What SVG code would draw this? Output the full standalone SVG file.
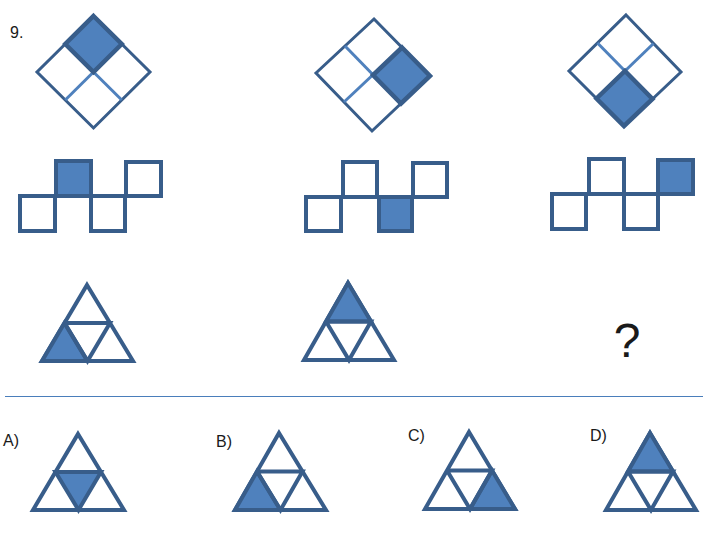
<svg xmlns="http://www.w3.org/2000/svg" width="726" height="534" viewBox="0 0 726 534">
<style>
.txt{font-family:"Liberation Sans","Open Sans",sans-serif;fill:#1a1a1a}
.out{fill:#fff;stroke:#385d8a;stroke-width:3;stroke-linejoin:miter}
.inl{stroke:#4f81bd;stroke-width:3;fill:none}
.shd{fill:#4f81bd;stroke:#385d8a;stroke-width:4.5;stroke-linejoin:miter}
.sq{fill:#fff;stroke:#385d8a;stroke-width:4}
.sqs{fill:#4f81bd;stroke:#385d8a;stroke-width:4}
.tri{fill:#fff;stroke:#385d8a;stroke-width:4;stroke-linejoin:miter}
.tris{fill:#4f81bd;stroke:#385d8a;stroke-width:4;stroke-linejoin:miter}
.tl{stroke:#385d8a;stroke-width:4;fill:none}
</style>
<rect width="726" height="534" fill="#fff"/>
<text class="txt" x="10" y="38" font-size="16">9.</text>

<g id="diamond1">
<polygon class="out" points="93.5,16 150,72 93.5,128 37,72"/>
<line class="inl" x1="65.25" y1="44" x2="121.75" y2="100"/>
<line class="inl" x1="121.75" y1="44" x2="65.25" y2="100"/>
<polygon class="shd" points="93.5,16 121.75,44 93.5,72 65.25,44"/>
</g>
<g id="diamond2">
<polygon class="out" points="374,19 430,76 372,131 316,73"/>
<line class="inl" x1="345" y1="46" x2="401" y2="103.5"/>
<line class="inl" x1="402" y1="47.5" x2="344" y2="102"/>
<polygon class="shd" points="402,47.5 430,76 401,103.5 373,75"/>
</g>
<g id="diamond3">
<polygon class="out" points="626,15 681,72 624,126 569,71"/>
<line class="inl" x1="597.5" y1="43" x2="652.5" y2="99"/>
<line class="inl" x1="653.5" y1="43.5" x2="596.5" y2="98.5"/>
<polygon class="shd" points="625,71 652.5,99 624,126 596.5,98.5"/>
</g>

<g id="squares1">
<rect class="sq" x="20" y="196" width="35" height="35"/>
<rect class="sq" x="91" y="196" width="34" height="35"/>
<rect class="sq" x="126" y="162" width="35" height="34"/>
<rect class="sqs" x="56" y="161" width="35" height="35"/>
</g>
<g id="squares2">
<rect class="sq" x="306" y="197" width="35" height="34"/>
<rect class="sq" x="343" y="162" width="34" height="35"/>
<rect class="sq" x="413" y="163" width="34" height="34"/>
<rect class="sqs" x="379" y="197" width="33" height="34"/>
</g>
<g id="squares3">
<rect class="sq" x="552" y="194" width="34" height="35"/>
<rect class="sq" x="589" y="159" width="35" height="35"/>
<rect class="sq" x="624" y="194" width="34" height="35"/>
<rect class="sqs" x="658" y="160" width="35" height="34"/>
</g>

<g id="triangle1">
<polygon class="tri" points="87,285 133,361 42,361"/>
<polygon class="tris" points="64.5,323 87.5,361 42,361"/>
<polyline class="tl" points="64.5,323 110,323 87.5,361 64.5,323"/>
</g>
<g id="triangle2">
<polygon class="tri" points="348,283 394,360 304,360"/>
<polygon class="tris" points="348,283 371,321.5 326,321.5"/>
<polyline class="tl" points="326,321.5 371,321.5 349,360 326,321.5"/>
</g>
<text class="txt" x="627" y="357" font-size="48" text-anchor="middle">?</text>

<line x1="5" y1="396.5" x2="703" y2="396.5" stroke="#4a7ebb" stroke-width="1"/>

<g id="optionA">
<text class="txt" x="3" y="446" font-size="16">A)</text>
<polygon class="tri" points="78,434 124,510 33,510"/>
<polygon class="tris" points="55.5,472 101,472 78.5,510"/>
</g>
<g id="optionB">
<text class="txt" x="216" y="447" font-size="16">B)</text>
<polygon class="tri" points="279,433 326,510 235,510"/>
<polygon class="tris" points="257,471.5 280.5,510 235,510"/>
<polyline class="tl" points="257,471.5 302.5,471.5 280.5,510 257,471.5"/>
</g>
<g id="optionC">
<text class="txt" x="408" y="441" font-size="16">C)</text>
<polygon class="tri" points="469,432 515,509 425,509"/>
<polygon class="tris" points="492,470.5 515,509 470,509"/>
<polyline class="tl" points="447,470.5 492,470.5 470,509 447,470.5"/>
</g>
<g id="optionD">
<text class="txt" x="590" y="441" font-size="16">D)</text>
<polygon class="tri" points="650,433 696,510 606,510"/>
<polygon class="tris" points="650,433 673,471.5 628,471.5"/>
<polyline class="tl" points="628,471.5 673,471.5 651,510 628,471.5"/>
</g>
</svg>
